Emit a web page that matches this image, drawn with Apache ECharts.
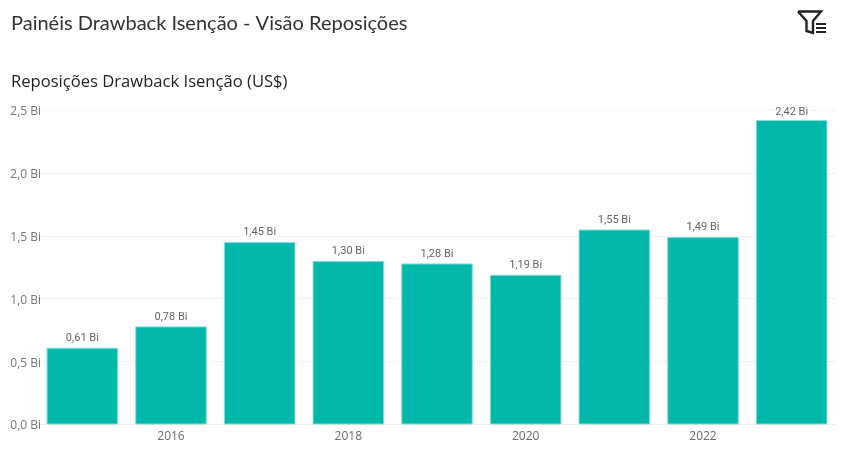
<!DOCTYPE html>
<html><head><meta charset="utf-8">
<style>html,body{margin:0;padding:0;background:#fff}#c{width:843px;height:455px}</style>
<script src="https://cdn.jsdelivr.net/npm/echarts@6/dist/echarts.min.js"></script>
</head><body><div id="c"></div>
<script>
const categories = ['2015','2016','2017','2018','2019','2020','2021','2022','2023'];
const values = [0.61,0.78,1.45,1.30,1.28,1.19,1.55,1.49,2.42];
const yTicks = {min:0,max:2.5,step:0.5};
const pageTitle = 'Painéis Drawback Isenção - Visão Reposições';
const chartTitle = 'Reposições Drawback Isenção (US$)';
const fmt = v => v.toFixed(2).replace('.',',')+' Bi';
const chart = echarts.init(document.getElementById('c'),null,{renderer:'canvas'});
chart.setOption({
  animation:false,
  backgroundColor:'#fff',
  title:[
    {text:pageTitle,left:6,top:9,textStyle:{fontFamily:'Lato',fontSize:20,fontWeight:'normal',color:'#333'}},
    {text:chartTitle,left:6,top:69,textStyle:{fontFamily:'Open Sans',fontSize:16.6,fontWeight:'normal',color:'#252423'}}
  ],
  grid:{left:38,right:7,top:110,bottom:30.5},
  xAxis:{type:'category',data:categories,
    axisLine:{show:false},axisTick:{show:false},
    axisLabel:{interval:(i)=>i%2===1,color:'#6b6b6b',fontFamily:'Open Sans',fontSize:12,margin:6}},
  yAxis:{type:'value',min:yTicks.min,max:yTicks.max,interval:yTicks.step,
    axisLine:{show:false},axisTick:{show:false},
    splitLine:{lineStyle:{color:'#f0f0f0',width:1}},
    axisLabel:{formatter:v=>v.toFixed(1).replace('.',',')+' Bi',color:'#777',fontFamily:'Open Sans',fontSize:12,margin:-3,verticalAlign:'top',lineHeight:3}},
  series:[{type:'bar',barWidth:71.5,
    data:values.map(v=>v===Math.max(...values)?{value:v,label:{distance:2}}:v),
    itemStyle:{color:'#01B8AA',borderColor:'#80dcd4',borderWidth:1},
    label:{show:true,position:'top',distance:4,formatter:p=>fmt(p.value),
      color:'#666',fontFamily:'Roboto',fontSize:11,backgroundColor:'#fff',padding:[0,3]}}],
  graphic:[
    {type:'polyline',shape:{points:[[798,11.5],[821,11.5],[813,21],[813,33],[806.5,31],[806.5,21],[798,11.5]]},
     style:{fill:'none',stroke:'#222',lineWidth:2.4}},
    {type:'line',shape:{x1:816,y1:24,x2:826,y2:24},style:{stroke:'#222',lineWidth:2}},
    {type:'line',shape:{x1:816,y1:28,x2:826,y2:28},style:{stroke:'#222',lineWidth:2}},
    {type:'line',shape:{x1:816,y1:32,x2:826,y2:32},style:{stroke:'#222',lineWidth:2}}
  ]
});
</script></body></html>
